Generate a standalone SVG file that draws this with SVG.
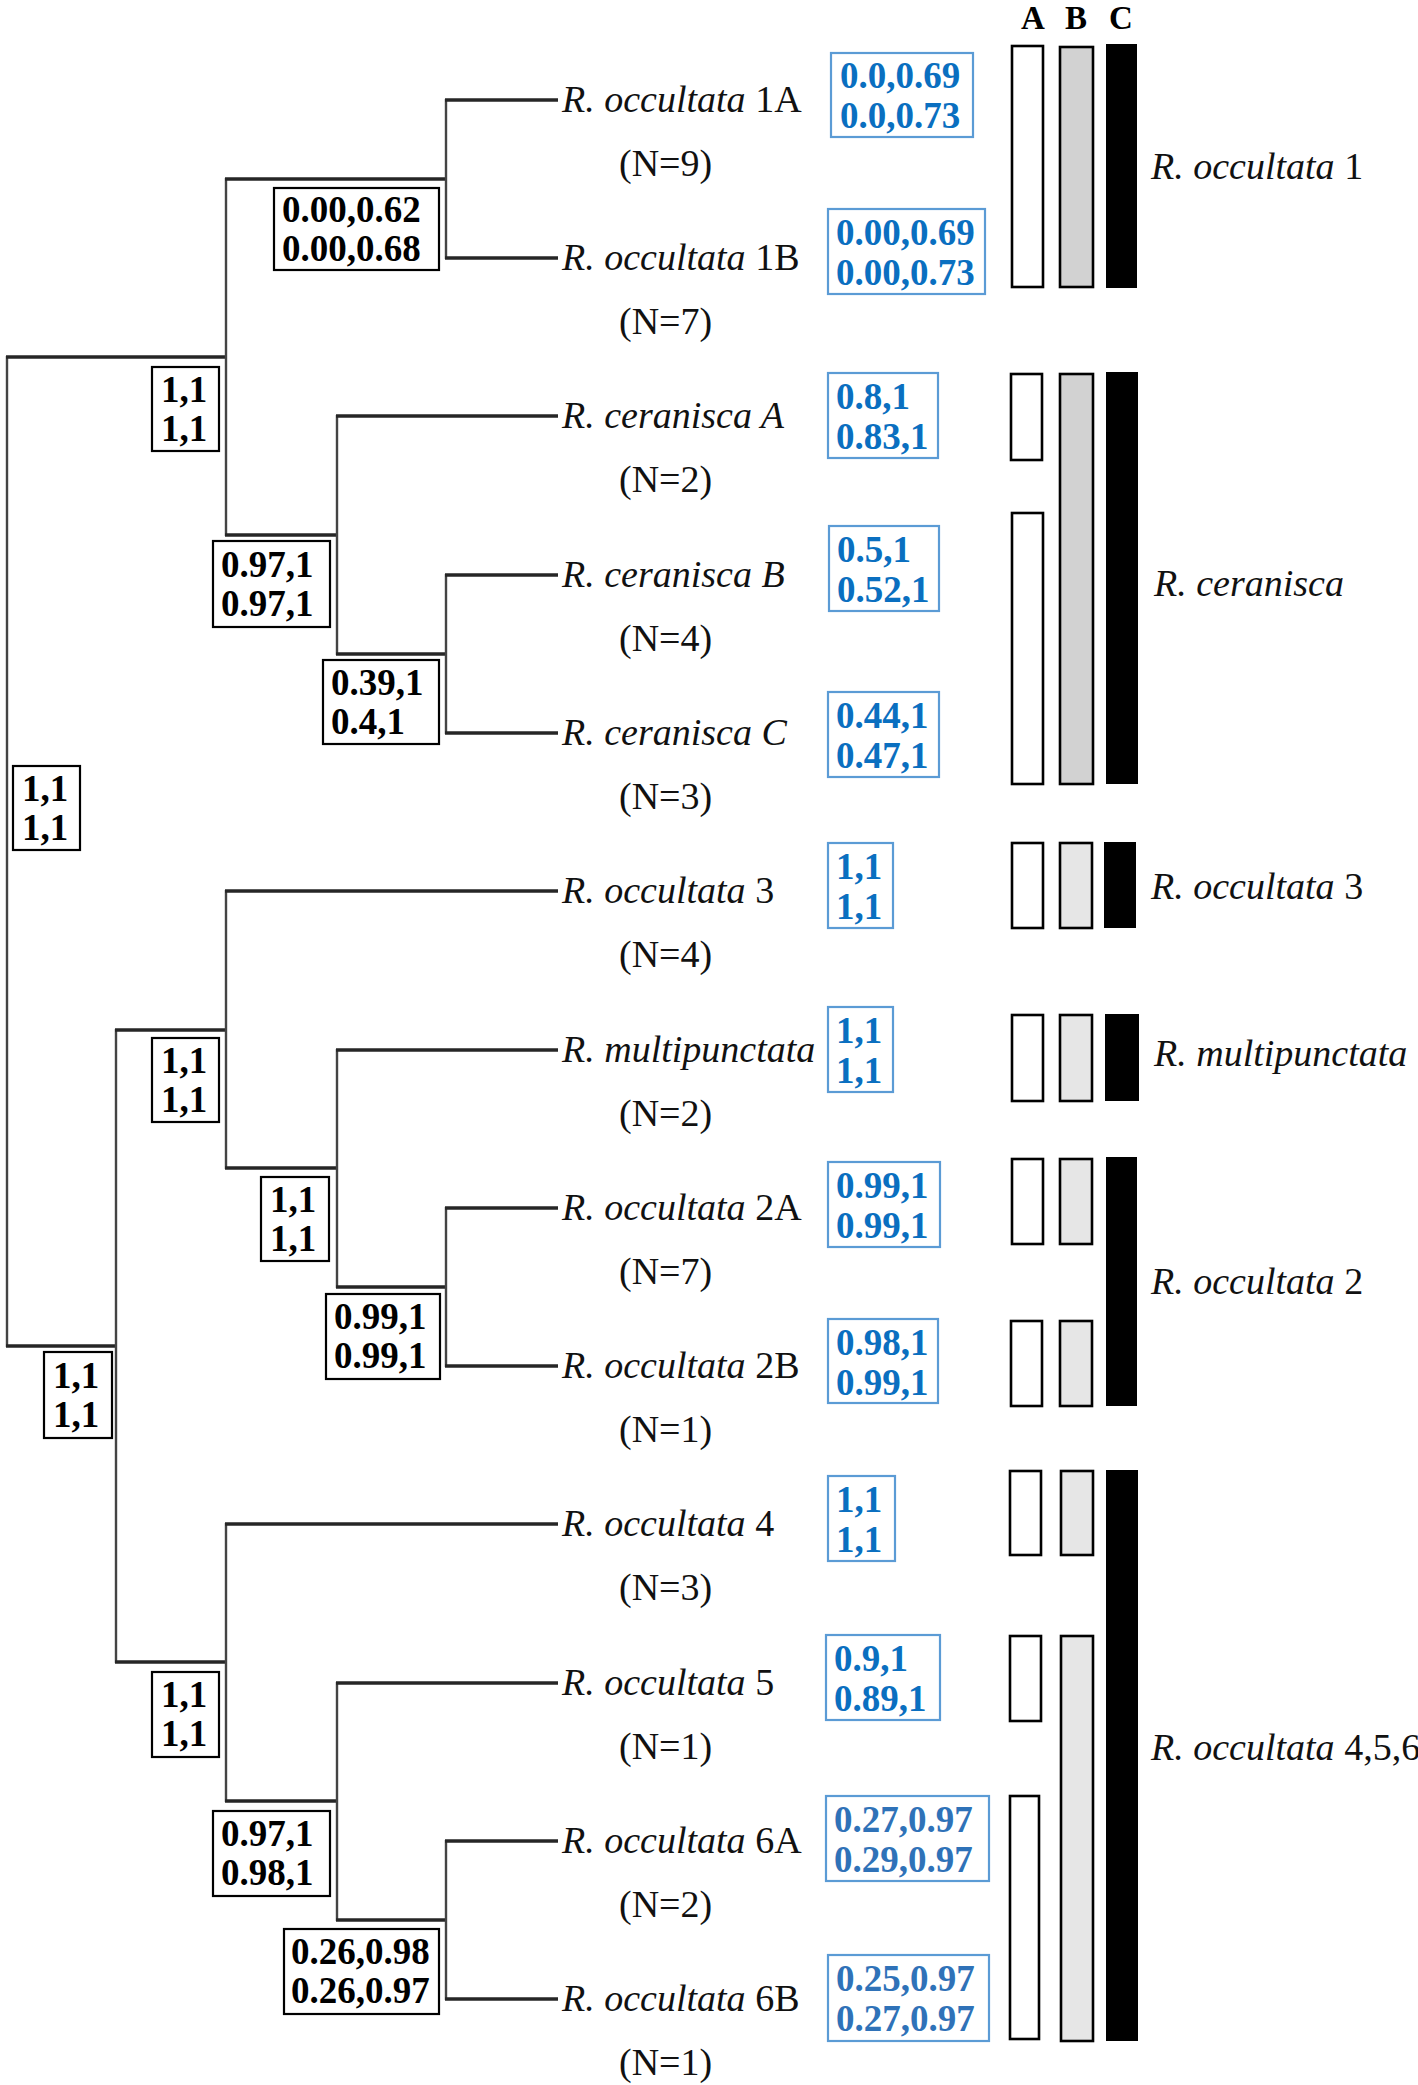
<svg xmlns="http://www.w3.org/2000/svg" width="1418" height="2085" viewBox="0 0 1418 2085">
<style>
text{font-family:"Liberation Serif","Times New Roman",serif;}
.lbl{font-size:38px;fill:#111;}
.it{font-style:italic;}
.n{font-size:38px;fill:#111;}
.sup{font-size:37px;font-weight:bold;fill:#000;}
.bsup{font-size:37px;font-weight:bold;fill:#0a6fc0;}
.bsup2{font-size:37px;font-weight:bold;fill:#2f72b8;}
.hdr{font-size:33px;font-weight:bold;fill:#000;text-anchor:middle;}
.box{fill:#fff;stroke:#000;stroke-width:2.2;}
.bbox{fill:#fff;stroke:#5b9bd5;stroke-width:2.2;}
.h{stroke:#262626;stroke-width:3.6;fill:none;}
.v{stroke:#444;stroke-width:2.4;fill:none;}
.barA{fill:#fff;stroke:#000;stroke-width:2.6;}
.barB1{fill:#d2d2d2;stroke:#000;stroke-width:2.6;}
.barB2{fill:#e6e6e6;stroke:#000;stroke-width:2.6;}
.barC{fill:#000;}
</style>

<g id="connectors">
  <!-- root -->
  <line class="v" x1="7" y1="356" x2="7" y2="1347"/>
  <line class="h" x1="6" y1="357" x2="227" y2="357"/>
  <line class="h" x1="6" y1="1346" x2="117" y2="1346"/>
  <!-- top clade -->
  <line class="v" x1="226" y1="178" x2="226" y2="536"/>
  <line class="h" x1="225" y1="179" x2="447" y2="179"/>
  <line class="v" x1="446" y1="99" x2="446" y2="259"/>
  <line class="h" x1="445" y1="100" x2="558" y2="100"/>
  <line class="h" x1="445" y1="258" x2="558" y2="258"/>
  <line class="h" x1="225" y1="535" x2="338" y2="535"/>
  <line class="v" x1="337" y1="415" x2="337" y2="655"/>
  <line class="h" x1="336" y1="416" x2="558" y2="416"/>
  <line class="h" x1="336" y1="654" x2="447" y2="654"/>
  <line class="v" x1="446" y1="574" x2="446" y2="734"/>
  <line class="h" x1="445" y1="575" x2="558" y2="575"/>
  <line class="h" x1="445" y1="733" x2="558" y2="733"/>
  <!-- bottom clade -->
  <line class="v" x1="116" y1="1029" x2="116" y2="1663"/>
  <line class="h" x1="115" y1="1030" x2="227" y2="1030"/>
  <line class="v" x1="226" y1="890" x2="226" y2="1169"/>
  <line class="h" x1="225" y1="891" x2="558" y2="891"/>
  <line class="h" x1="225" y1="1168" x2="338" y2="1168"/>
  <line class="v" x1="337" y1="1049" x2="337" y2="1288"/>
  <line class="h" x1="336" y1="1050" x2="558" y2="1050"/>
  <line class="h" x1="336" y1="1287" x2="447" y2="1287"/>
  <line class="v" x1="446" y1="1207" x2="446" y2="1367"/>
  <line class="h" x1="445" y1="1208" x2="558" y2="1208"/>
  <line class="h" x1="445" y1="1366" x2="558" y2="1366"/>
  <line class="h" x1="115" y1="1662" x2="227" y2="1662"/>
  <line class="v" x1="226" y1="1523" x2="226" y2="1802"/>
  <line class="h" x1="225" y1="1524" x2="558" y2="1524"/>
  <line class="h" x1="225" y1="1801" x2="338" y2="1801"/>
  <line class="v" x1="337" y1="1682" x2="337" y2="1921"/>
  <line class="h" x1="336" y1="1683" x2="558" y2="1683"/>
  <line class="h" x1="336" y1="1920" x2="447" y2="1920"/>
  <line class="v" x1="446" y1="1840" x2="446" y2="2000"/>
  <line class="h" x1="445" y1="1841" x2="558" y2="1841"/>
  <line class="h" x1="445" y1="1999" x2="558" y2="1999"/>
</g>

<!-- internal node support boxes -->
<g id="node-root"><rect class="box" x="13" y="766" width="67" height="84"/><text class="sup" x="22" y="801">1,1</text><text class="sup" x="22" y="840">1,1</text></g>
<g id="node-top"><rect class="box" x="152" y="367" width="67" height="84"/><text class="sup" x="161" y="402">1,1</text><text class="sup" x="161" y="441">1,1</text></g>
<g id="node-occ1"><rect class="box" x="274" y="188" width="165" height="82"/><text class="sup" x="282" y="222">0.00,0.62</text><text class="sup" x="282" y="261">0.00,0.68</text></g>
<g id="node-cer"><rect class="box" x="213" y="541" width="117" height="86"/><text class="sup" x="221" y="577">0.97,1</text><text class="sup" x="221" y="616">0.97,1</text></g>
<g id="node-cerBC"><rect class="box" x="323" y="660" width="116" height="84"/><text class="sup" x="331" y="695">0.39,1</text><text class="sup" x="331" y="734">0.4,1</text></g>
<g id="node-bottom"><rect class="box" x="44" y="1352" width="68" height="86"/><text class="sup" x="53" y="1388">1,1</text><text class="sup" x="53" y="1427">1,1</text></g>
<g id="node-occ3clade"><rect class="box" x="152" y="1038" width="67" height="84"/><text class="sup" x="161" y="1073">1,1</text><text class="sup" x="161" y="1112">1,1</text></g>
<g id="node-multi"><rect class="box" x="261" y="1177" width="68" height="84"/><text class="sup" x="270" y="1212">1,1</text><text class="sup" x="270" y="1251">1,1</text></g>
<g id="node-occ2"><rect class="box" x="326" y="1294" width="114" height="85"/><text class="sup" x="334" y="1329">0.99,1</text><text class="sup" x="334" y="1368">0.99,1</text></g>
<g id="node-occ4clade"><rect class="box" x="152" y="1672" width="67" height="85"/><text class="sup" x="161" y="1707">1,1</text><text class="sup" x="161" y="1746">1,1</text></g>
<g id="node-occ5clade"><rect class="box" x="213" y="1811" width="117" height="85"/><text class="sup" x="221" y="1846">0.97,1</text><text class="sup" x="221" y="1885">0.98,1</text></g>
<g id="node-occ6"><rect class="box" x="284" y="1929" width="155" height="85"/><text class="sup" x="291" y="1964">0.26,0.98</text><text class="sup" x="291" y="2003">0.26,0.97</text></g>

<!-- leaves -->
<g id="leaf-occ1A"><text class="lbl" x="562" y="112"><tspan class="it">R. occultata</tspan> 1A</text><text class="n" x="619" y="176">(N=9)</text>
  <rect class="bbox" x="831" y="53" width="142" height="84"/><text class="bsup" x="840" y="88">0.0,0.69</text><text class="bsup" x="840" y="128">0.0,0.73</text></g>
<g id="leaf-occ1B"><text class="lbl" x="562" y="270"><tspan class="it">R. occultata</tspan> 1B</text><text class="n" x="619" y="334">(N=7)</text>
  <rect class="bbox" x="828" y="209" width="157" height="85"/><text class="bsup" x="836" y="245">0.00,0.69</text><text class="bsup" x="836" y="285">0.00,0.73</text></g>
<g id="leaf-cerA"><text class="lbl it" x="562" y="428">R. ceranisca A</text><text class="n" x="619" y="492">(N=2)</text>
  <rect class="bbox" x="828" y="373" width="110" height="85"/><text class="bsup" x="836" y="409">0.8,1</text><text class="bsup" x="836" y="449">0.83,1</text></g>
<g id="leaf-cerB"><text class="lbl it" x="562" y="587">R. ceranisca B</text><text class="n" x="619" y="651">(N=4)</text>
  <rect class="bbox" x="829" y="526" width="110" height="85"/><text class="bsup" x="837" y="562">0.5,1</text><text class="bsup" x="837" y="602">0.52,1</text></g>
<g id="leaf-cerC"><text class="lbl it" x="562" y="745">R. ceranisca C</text><text class="n" x="619" y="809">(N=3)</text>
  <rect class="bbox" x="828" y="692" width="111" height="85"/><text class="bsup" x="836" y="728">0.44,1</text><text class="bsup" x="836" y="768">0.47,1</text></g>
<g id="leaf-occ3"><text class="lbl" x="562" y="903"><tspan class="it">R. occultata</tspan> 3</text><text class="n" x="619" y="967">(N=4)</text>
  <rect class="bbox" x="828" y="843" width="65" height="85"/><text class="bsup" x="836" y="879">1,1</text><text class="bsup" x="836" y="919">1,1</text></g>
<g id="leaf-multi"><text class="lbl it" x="562" y="1062">R. multipunctata</text><text class="n" x="619" y="1126">(N=2)</text>
  <rect class="bbox" x="828" y="1007" width="65" height="85"/><text class="bsup" x="836" y="1043">1,1</text><text class="bsup" x="836" y="1083">1,1</text></g>
<g id="leaf-occ2A"><text class="lbl" x="562" y="1220"><tspan class="it">R. occultata</tspan> 2A</text><text class="n" x="619" y="1284">(N=7)</text>
  <rect class="bbox" x="828" y="1162" width="112" height="85"/><text class="bsup" x="836" y="1198">0.99,1</text><text class="bsup" x="836" y="1238">0.99,1</text></g>
<g id="leaf-occ2B"><text class="lbl" x="562" y="1378"><tspan class="it">R. occultata</tspan> 2B</text><text class="n" x="619" y="1442">(N=1)</text>
  <rect class="bbox" x="828" y="1319" width="110" height="84"/><text class="bsup" x="836" y="1355">0.98,1</text><text class="bsup" x="836" y="1395">0.99,1</text></g>
<g id="leaf-occ4"><text class="lbl" x="562" y="1536"><tspan class="it">R. occultata</tspan> 4</text><text class="n" x="619" y="1600">(N=3)</text>
  <rect class="bbox" x="828" y="1476" width="67" height="85"/><text class="bsup" x="836" y="1512">1,1</text><text class="bsup" x="836" y="1552">1,1</text></g>
<g id="leaf-occ5"><text class="lbl" x="562" y="1695"><tspan class="it">R. occultata</tspan> 5</text><text class="n" x="619" y="1759">(N=1)</text>
  <rect class="bbox" x="826" y="1635" width="114" height="85"/><text class="bsup" x="834" y="1671">0.9,1</text><text class="bsup" x="834" y="1711">0.89,1</text></g>
<g id="leaf-occ6A"><text class="lbl" x="562" y="1853"><tspan class="it">R. occultata</tspan> 6A</text><text class="n" x="619" y="1917">(N=2)</text>
  <rect class="bbox" x="826" y="1796" width="163" height="85"/><text class="bsup2" x="834" y="1832">0.27,0.97</text><text class="bsup2" x="834" y="1872">0.29,0.97</text></g>
<g id="leaf-occ6B"><text class="lbl" x="562" y="2011"><tspan class="it">R. occultata</tspan> 6B</text><text class="n" x="619" y="2075">(N=1)</text>
  <rect class="bbox" x="828" y="1955" width="161" height="86"/><text class="bsup2" x="836" y="1991">0.25,0.97</text><text class="bsup2" x="836" y="2031">0.27,0.97</text></g>

<!-- column headers -->
<g id="headers">
  <text class="hdr" x="1033" y="29">A</text>
  <text class="hdr" x="1076" y="29">B</text>
  <text class="hdr" x="1121" y="29">C</text>
</g>

<!-- clade bars -->
<g id="bars-A">
  <rect class="barA" x="1012" y="46" width="31" height="241"/>
  <rect class="barA" x="1011" y="374" width="31" height="86"/>
  <rect class="barA" x="1012" y="513" width="31" height="271"/>
  <rect class="barA" x="1012" y="843" width="31" height="85"/>
  <rect class="barA" x="1012" y="1015" width="31" height="86"/>
  <rect class="barA" x="1012" y="1159" width="31" height="85"/>
  <rect class="barA" x="1011" y="1321" width="31" height="85"/>
  <rect class="barA" x="1010" y="1471" width="31" height="84"/>
  <rect class="barA" x="1010" y="1636" width="31" height="85"/>
  <rect class="barA" x="1010" y="1796" width="29" height="243"/>
</g>
<g id="bars-B">
  <rect class="barB1" x="1060" y="47" width="33" height="240"/>
  <rect class="barB1" x="1060" y="374" width="33" height="410"/>
  <rect class="barB2" x="1060" y="843" width="32" height="85"/>
  <rect class="barB2" x="1060" y="1015" width="32" height="86"/>
  <rect class="barB2" x="1060" y="1159" width="32" height="85"/>
  <rect class="barB2" x="1060" y="1321" width="32" height="85"/>
  <rect class="barB2" x="1061" y="1471" width="32" height="84"/>
  <rect class="barB2" x="1061" y="1636" width="32" height="405"/>
</g>
<g id="bars-C">
  <rect class="barC" x="1106" y="44" width="31" height="244"/>
  <rect class="barC" x="1106" y="372" width="32" height="412"/>
  <rect class="barC" x="1104" y="842" width="32" height="86"/>
  <rect class="barC" x="1105" y="1014" width="34" height="87"/>
  <rect class="barC" x="1106" y="1157" width="31" height="249"/>
  <rect class="barC" x="1106" y="1470" width="32" height="571"/>
</g>

<!-- clade names -->
<g id="clade-labels">
  <text class="lbl" x="1151" y="179"><tspan class="it">R. occultata</tspan> 1</text>
  <text class="lbl it" x="1154" y="596">R. ceranisca</text>
  <text class="lbl" x="1151" y="899"><tspan class="it">R. occultata</tspan> 3</text>
  <text class="lbl it" x="1154" y="1066">R. multipunctata</text>
  <text class="lbl" x="1151" y="1294"><tspan class="it">R. occultata</tspan> 2</text>
  <text class="lbl" x="1151" y="1760"><tspan class="it">R. occultata</tspan> 4,5,6</text>
</g>
</svg>
